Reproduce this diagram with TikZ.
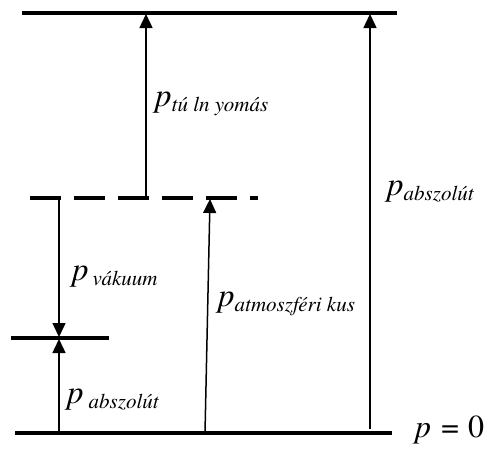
\documentclass[tikz,border=0pt]{standalone}
\usepackage{fontspec}
\setmainfont{TeX Gyre Termes}
\usetikzlibrary{arrows.meta}
\newcommand{\plbl}[1]{{\fontsize{33}{33}\selectfont\itshape p}\raisebox{-5pt}{\fontsize{21}{21}\selectfont\itshape #1}}

\begin{document}
\begin{tikzpicture}[
    x=1pt, y=-1pt,
    level/.style={line width=3.5pt},
    arrow/.style={-{Triangle[length=14pt,width=13pt]}, line width=1.5pt},
    lbl/.style={anchor=base west, inner sep=0pt}
  ]
    \useasboundingbox (0,0) rectangle (487,450);
    \coordinate (topW) at (22,13);
    \coordinate (topE) at (397,13);
    \coordinate (atmW) at (30,198);
    \coordinate (atmE) at (258,198);
    \coordinate (midW) at (11,338);
    \coordinate (midE) at (109,338);
    \coordinate (botW) at (15,433);
    \coordinate (botE) at (392,433);
    \draw[level] (topW) -- (topE);
    \draw[level, dash pattern=on 31pt off 13pt] (atmW) -- (atmE);
    \draw[level] (midW) -- (midE);
    \draw[level] (botW) -- (botE);
    \coordinate (tulA) at (146,198);
    \coordinate (tulB) at (146,14);
    \coordinate (absA) at (370,429);
    \coordinate (absB) at (370,14);
    \coordinate (vakA) at (59,198);
    \coordinate (vakB) at (59,337);
    \coordinate (absbA) at (59,433);
    \coordinate (absbB) at (59,339);
    \coordinate (atmA) at (205,433);
    \coordinate (atmB) at (210,199);
    \draw[arrow] (tulA) -- (tulB);
    \draw[arrow] (absA) -- (absB);
    \draw[arrow] (vakA) -- (vakB);
    \draw[arrow] (absbA) -- (absbB);
    \draw[arrow] (atmA) -- (atmB);
    \node[lbl] (tul) at (155,106) {\plbl{tú ln yomás}};
    \node[lbl] (abs) at (387,195) {\plbl{abszolút}};
    \node[lbl] (vak) at (72,280) {\plbl{\hspace{4pt}vákuum}};
    \node[lbl] (atm) at (218,306) {\plbl{atmoszféri kus}};
    \node[lbl] (absb) at (67,403) {\plbl{\hspace{5pt}abszolút}};
    \node[lbl] (zero) at (415,437) {\fontsize{32}{32}\selectfont{\itshape p}\hspace{10pt}=\hspace{9pt}0};
  \end{tikzpicture}
\end{document}
